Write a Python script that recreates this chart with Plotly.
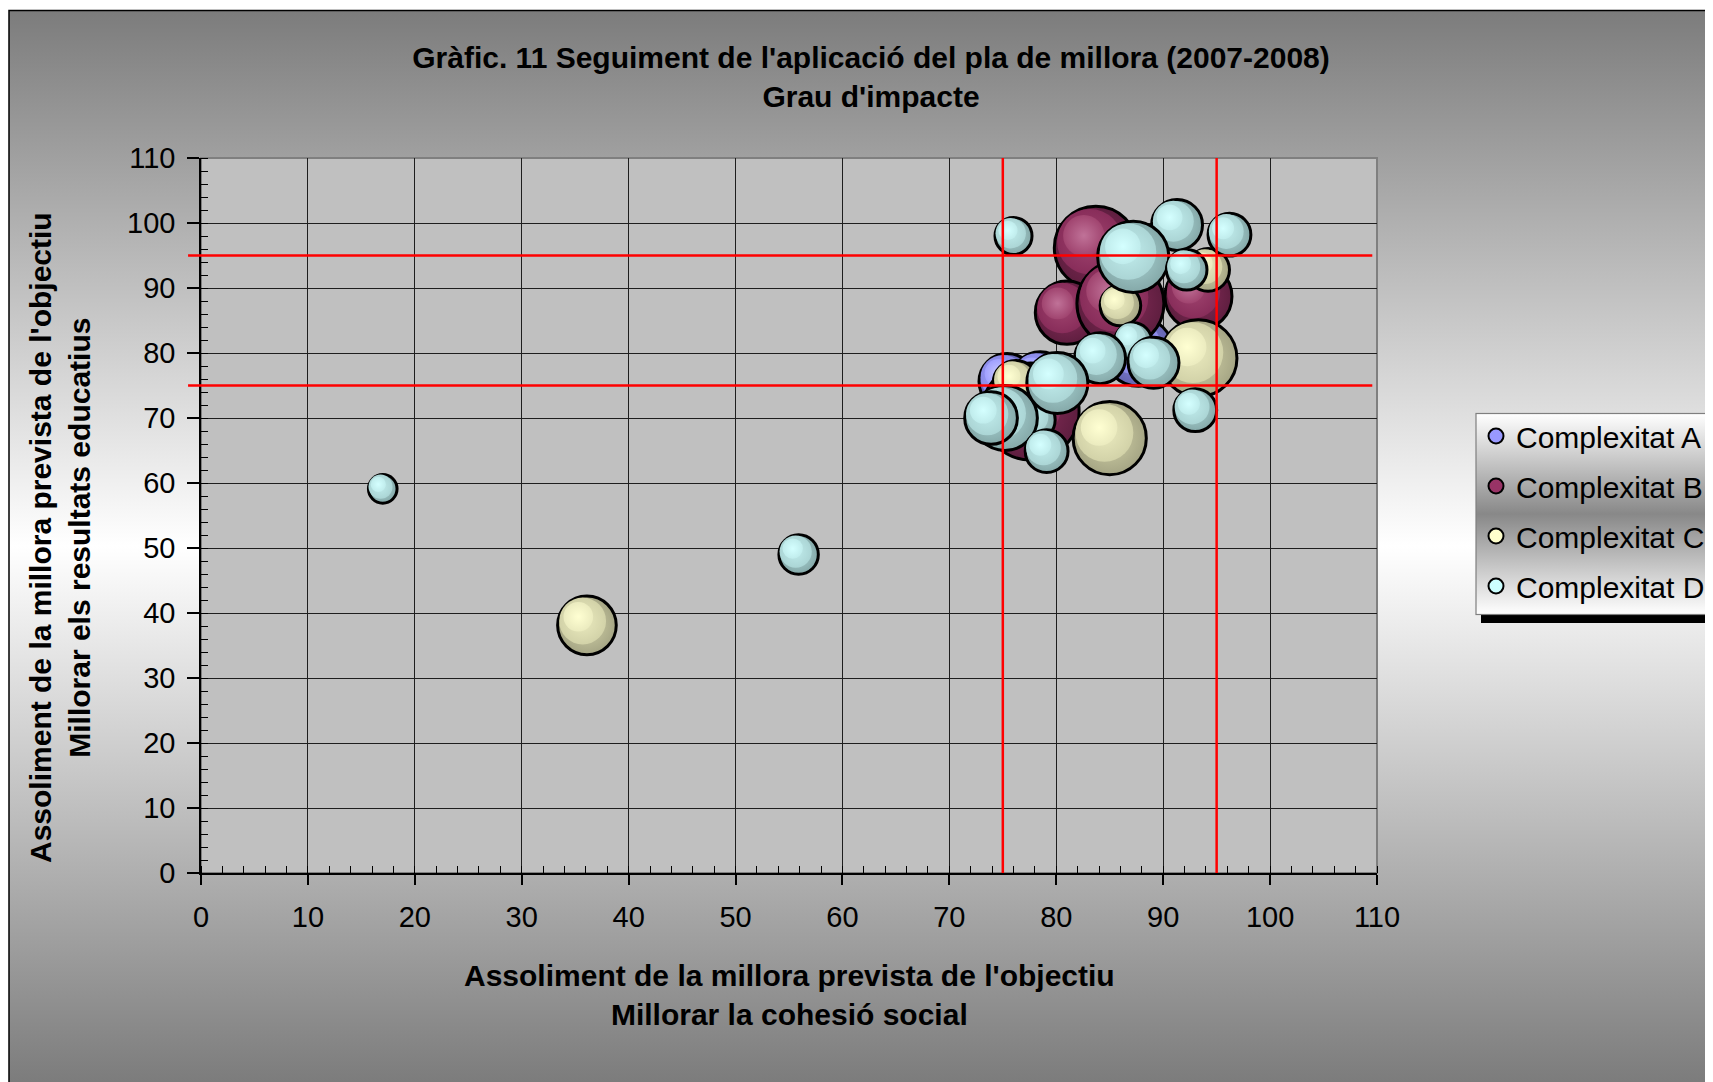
import base64
import numpy as np
import plotly.graph_objects as go

# Dades llegides del gràfic: x = cohesió social, y = resultats educatius, mida = pes de la bombolla
complex_a_x = [75.4, 78.5, 87.7]
complex_a_y = [75.6, 75.8, 80.2]
complex_a_mida = [35, 36, 52]

complex_b_x = [77.6, 83.7, 81.0, 93.3, 86.0]
complex_b_y = [71.0, 96.2, 86.2, 88.7, 87.6]
complex_b_mida = [100, 74, 44, 49, 81]

complex_c_x = [36.1, 85.0, 76.2, 93.3, 86.0, 94.2]
complex_c_y = [38.1, 66.9, 75.4, 79.2, 87.3, 92.8]
complex_c_mida = [38, 58, 23, 64, 19, 21]

complex_d_x = [17.0, 55.9, 76.0, 91.3, 87.2, 92.2, 96.2, 87.2, 84.1, 89.1, 93.0, 78.0, 75.2, 80.1, 73.9, 79.1]
complex_d_y = [59.1, 49.0, 98.0, 99.7, 94.8, 92.8, 98.2, 81.8, 79.2, 78.5, 71.2, 69.7, 70.0, 75.4, 70.0, 64.9]
complex_d_mida = [10, 18, 16, 29, 55, 19, 21, 16, 29, 29, 21, 19, 46, 41, 31, 21]

llindars = [75, 95]
ticks_eix = list(range(0, 111, 10))

# Mides (px). El body de la pàgina té 8 px de marge, es compensa aquí
OFF = 8
W, H = 1713 - OFF, 1082 - OFF
ML, MR, MT, MB = 201 - OFF, 336, 158 - OFF, 209
PW, PH = W - ML - MR, H - MT - MB
PX_X = PW / 110
PX_Y = PH / 110
FONT = "Liberation Sans, Arial, sans-serif"
VORA = 3

# colors de l'esfera: vora, banda mitjana, banda clara, reflex; i color pla per a la llegenda
series = [
    ("Complexitat A", complex_a_x, complex_a_y, complex_a_mida,
     ("#6464b0", "#8c8ce8", "#a0a0ff", "#c8c8ff"), "#9999FF"),
    ("Complexitat B", complex_b_x, complex_b_y, complex_b_mida,
     ("#5e1e3f", "#882d5a", "#a0446f", "#c07298"), "#993366"),
    ("Complexitat C", complex_c_x, complex_c_y, complex_c_mida,
     ("#a5a584", "#d2d2a8", "#ebebbf"  , "#ffffd2"), "#FFFFCC"),
    ("Complexitat D", complex_d_x, complex_d_y, complex_d_mida,
     ("#84a8a8", "#abd5d5", "#c0ecec", "#d4ffff"), "#CCFFFF"),
]

# capes de cada esfera: (fracció del diàmetre, desplaçament cap a dalt-esquerra)
CAPES = [(1.0, 0.0), (0.76, 0.07), (0.48, 0.14)]


def bombolles(xs, ys, mides, colors):
    # les capes s'intercalen punt a punt perquè l'ordre de dibuix es mantingui
    px, py, size, col, grad, lw = [], [], [], [], [], []
    for x, y, m in zip(xs, ys, mides):
        d = 10 * np.sqrt(m)
        for k, (frac, desp) in enumerate(CAPES):
            off = desp * d
            px.append(x - off / PX_X)
            py.append(y + off / PX_Y)
            size.append(d * frac - (VORA if k == 0 else 0))
            col.append(colors[k])
            grad.append(colors[k + 1])
            lw.append(VORA if k == 0 else 0)
    return go.Scatter(
        x=px, y=py, mode="markers", showlegend=False, hoverinfo="skip",
        marker=dict(size=size, sizemode="diameter", color=col, opacity=1,
                    gradient=dict(type="radial", color=grad),
                    line=dict(color="black", width=lw)),
    )


fig = go.Figure()

for nom, xs, ys, mides, colors, pla in series:
    fig.add_trace(bombolles(xs, ys, mides, colors))

for i, (nom, xs, ys, mides, colors, pla) in enumerate(series):
    fig.add_trace(go.Scatter(
        x=[None], y=[None], mode="markers", name=nom, legendgroup=str(i),
        marker=dict(size=15, color=pla, line=dict(color="black", width=2)),
    ))

# Fons degradat del gràfic i caixa de la llegenda (svg en línia, coordenades de la figura)
svg = f'''<svg xmlns="http://www.w3.org/2000/svg" width="{W}" height="{H}" viewBox="0 0 {W} {H}">
<defs>
<linearGradient id="fons" x1="0" y1="{10 - OFF}" x2="0" y2="{1082 - OFF}" gradientUnits="userSpaceOnUse">
<stop offset="0" stop-color="#7c7c7c"/><stop offset="0.5" stop-color="#ffffff"/><stop offset="1" stop-color="#7c7c7c"/>
</linearGradient>
<linearGradient id="lleg" x1="0" y1="0" x2="0" y2="1">
<stop offset="0" stop-color="#ffffff"/><stop offset="0.5" stop-color="#888888"/><stop offset="1" stop-color="#ffffff"/>
</linearGradient>
</defs>
<rect x="0" y="0" width="{W}" height="{H}" fill="#ffffff"/>
<rect x="{9 - OFF}" y="{10.5 - OFF}" width="{W + 20}" height="{H + 20}" fill="url(#fons)" stroke="#000000" stroke-width="1.5"/>
<rect x="{1481 - OFF}" y="{421 - OFF}" width="{W}" height="202" fill="#000000"/>
<rect x="{1476 - OFF}" y="{413.5 - OFF}" width="{W}" height="201" fill="url(#lleg)" stroke="#7f7f7f" stroke-width="1.2"/>
</svg>'''
fons_uri = "data:image/svg+xml;base64," + base64.b64encode(svg.encode()).decode()

fig.add_layout_image(dict(
    source=fons_uri, xref="paper", yref="paper",
    x=-ML / PW, y=1 + MT / PH, sizex=W / PW, sizey=H / PH,
    xanchor="left", yanchor="top", sizing="stretch", layer="below",
))

# àrea de dibuix grisa
fig.add_shape(type="rect", xref="paper", yref="paper", x0=0, x1=1, y0=0, y1=1,
              fillcolor="#C0C0C0", line=dict(color="#7f7f7f", width=2), layer="below")

# línies vermelles de referència
for v in llindars:
    fig.add_shape(type="line", xref="x", yref="paper", x0=v, x1=v, y0=0, y1=1,
                  line=dict(color="#FF0000", width=2.5))
    fig.add_shape(type="line", xref="paper", yref="y", x0=-0.011, x1=0.996, y0=v, y1=v,
                  line=dict(color="#FF0000", width=2.5))

eix = dict(
    range=[0, 110], tickvals=ticks_eix, showgrid=True, gridcolor="#1e1e1e", gridwidth=1,
    showline=True, linecolor="black", linewidth=1.5, zeroline=False,
    ticks="outside", tickcolor="black", tickwidth=1.5,
    minor=dict(ticks="inside", dtick=2, ticklen=7, tickcolor="black", tickwidth=1.2, showgrid=False),
    tickfont=dict(family=FONT, size=29, color="black"), fixedrange=True,
)

fig.update_layout(
    width=W, height=H,
    margin=dict(l=ML, r=MR, t=MT, b=MB, autoexpand=False),
    paper_bgcolor="white", plot_bgcolor="#C0C0C0",
    font=dict(family=FONT, color="black"),
    title=dict(
        text="Gràfic. 11 Seguiment de l'aplicació del pla de millora (2007-2008)<br>Grau d'impacte",
        x=(871 - OFF) / W, y=1 - (68 - OFF) / H, xref="container", yref="container",
        xanchor="center", yanchor="middle",
        font=dict(family=FONT, size=30, weight="bold", color="black"),
    ),
    xaxis=dict(eix, ticklen=10, ticklabelstandoff=7),
    yaxis=dict(eix, ticklen=12, ticklabelstandoff=6),
    legend=dict(
        x=(1476 - OFF - ML) / PW, y=(H - MB - (410 - OFF)) / PH, xanchor="left", yanchor="top",
        bgcolor="rgba(0,0,0,0)", borderwidth=0, tracegroupgap=8,
        font=dict(family=FONT, size=30, color="black"),
    ),
    showlegend=True,
    annotations=[
        dict(text="Assoliment de la millora prevista de l'objectiu<br>Millorar la cohesió social",
             xref="paper", yref="paper", x=0.5, y=(H - MB - (995 - OFF)) / PH,
             xanchor="center", yanchor="middle", showarrow=False,
             font=dict(family=FONT, size=30, weight="bold", color="black")),
        dict(text="Assoliment de la millora prevista de l'objectiu<br>Millorar els resultats educatius",
             xref="paper", yref="paper", x=(60 - OFF - ML) / PW, y=(H - MB - (538 - OFF)) / PH,
             xanchor="center", yanchor="middle", showarrow=False, textangle=-90,
             font=dict(family=FONT, size=30, weight="bold", color="black")),
    ],
)

fig.write_html("out.html")
